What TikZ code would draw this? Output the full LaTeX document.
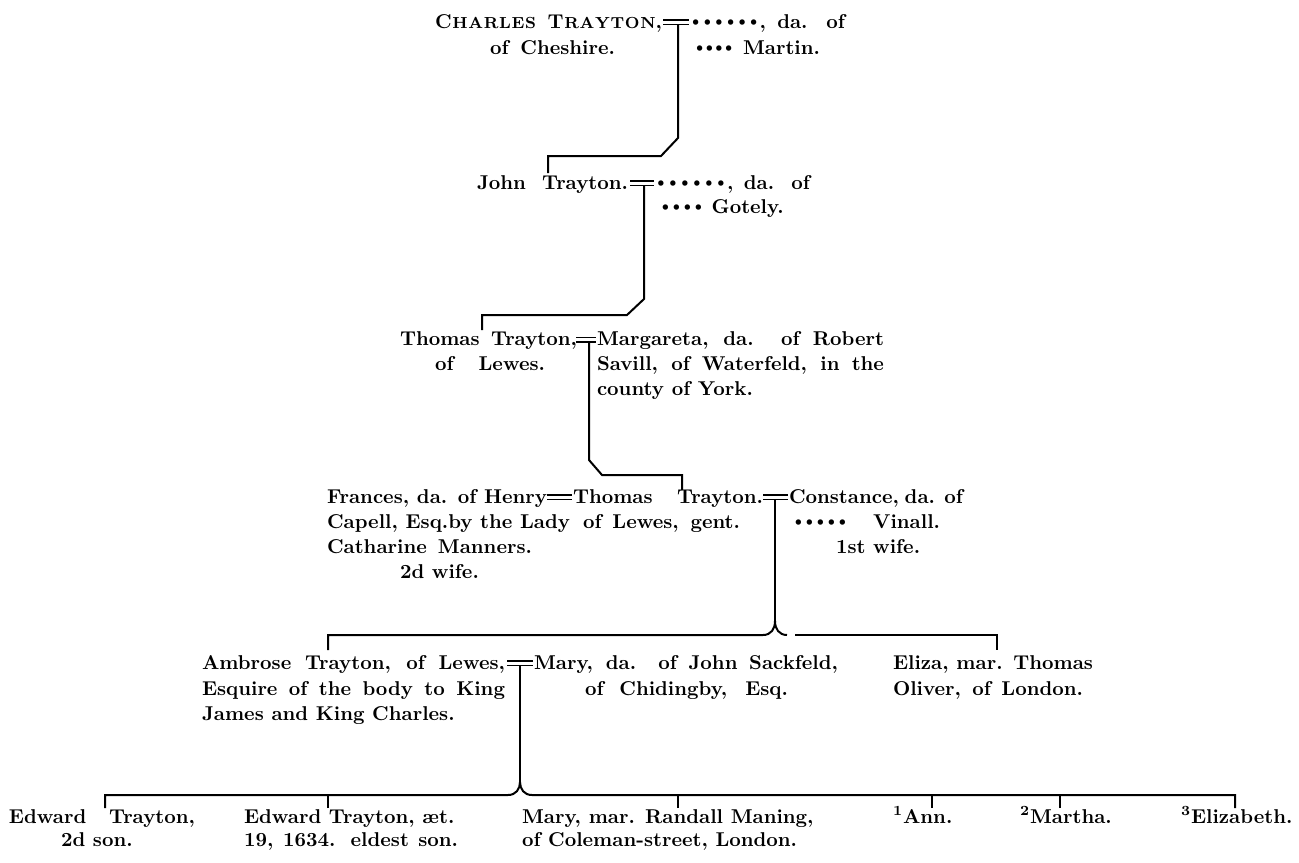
\documentclass[tikz,border=0pt]{standalone}
\usepackage{fontspec}
\newdimen\pxu \pxu=0.5pt
\newcommand\jb[2]{\makebox[#1\pxu][s]{#2}}
\newcommand\smc[1]{{\fontsize{8}{9}\selectfont #1}}
\newcommand\K{\kern0.35pt}
\newcommand\bu[1][5.5pt]{\makebox[#1]{\raisebox{0.9pt}{\fontsize{8.8}{9}\selectfont •}}}
\begin{document}
\begin{tikzpicture}[x=0.5pt,y=-0.5pt,
  lbl/.style={anchor=base west,inner sep=0pt,outer sep=0pt,font=\fontsize{10}{12}\selectfont\bfseries\addfontfeatures{FakeBold=0.5}},
  rule/.style={line width=1pt,line join=miter},
  eqs/.style={line width=0.75pt}]
\path[use as bounding box, fill=white] (0,0) rectangle (1299,862);

% ---------- generation 1
\node[lbl] (cha) at (435,28) {\jb{227}{C\K\smc{H\K A\K R\K L\K E\K S} T\K\smc{R\K A\K Y\K T\K O\K N},}};
\node[lbl] (chb) at (490,54) {\jb{125}{of Cheshire.}};
\node[lbl] (w1a) at (690,28) {\jb{155}{\bu[5.8pt]\bu[5.8pt]\bu[5.8pt]\bu[5.8pt]\bu[5.8pt]\bu[5.8pt], da. of}};
\node[lbl] (w1b) at (695,54) {\jb{125}{\bu[4.8pt]\bu[4.8pt]\bu[4.8pt]\bu[4.8pt] Martin.}};
% ---------- generation 2
\node[lbl] (joa) at (477,189) {\jb{151}{John Trayton.}};
\node[lbl] (w2a) at (655,189) {\jb{155}{\bu[6pt]\bu[6pt]\bu[6pt]\bu[6pt]\bu[6pt]\bu[6pt], da. of}};
\node[lbl] (w2b) at (660,213) {\bu\bu\bu\bu{} Gotely.};
% ---------- generation 3
\node[lbl] (tha) at (400,345) {\jb{177}{Thomas Trayton,}};
\node[lbl] (thb) at (435,370) {\jb{110}{of Lewes.}};
\node[lbl] (maa) at (597,345) {\jb{287}{Margareta, da. of Robert}};
\node[lbl] (mab) at (597,370) {\jb{287}{Savill, of Waterfeld, in the}};
\node[lbl] (mac) at (597,395) {county of York.};
% ---------- generation 4
\node[lbl] (fra) at (327,503) {\jb{220}{Frances, da. of Henry}};
\node[lbl] (frb) at (327,528) {Capell, Esq.by the Lady};
\node[lbl] (frc) at (327,553) {\jb{205}{Catharine Manners.}};
\node[lbl] (frd) at (400,578) {2d wife.};
\node[lbl] (t4a) at (573,503) {\jb{190}{Thomas Trayton.}};
\node[lbl] (t4b) at (583,528) {\jb{157}{of Lewes, gent.}};
\node[lbl] (coa) at (789,503) {\jb{174}{Constance, da. of}};
\node[lbl] (cob) at (793,528) {\jb{147}{\bu\bu\bu\bu\bu{} Vinall.}};
\node[lbl] (coc) at (836,553) {1st wife.};
% ---------- generation 5
\node[lbl] (ama) at (202,669) {\jb{303}{Ambrose Trayton, of Lewes,}};
\node[lbl] (amb) at (202,695) {\jb{303}{Esquire of the body to King}};
\node[lbl] (amc) at (202,720) {James and King Charles.};
\node[lbl] (mya) at (534,669) {\jb{304}{Mary, da. of John Sackfeld,}};
\node[lbl] (myb) at (585,695) {\jb{203}{of Chidingby, Esq.}};
\node[lbl] (ela) at (893,669) {\jb{200}{Eliza, mar. Thomas}};
\node[lbl] (elb) at (893,695) {\jb{190}{Oliver, of London.}};
% ---------- generation 6
\node[lbl] (eda) at (9,823) {\jb{186}{Edward Trayton,}};
\node[lbl] (edb) at (61,846) {2d son.};
\node[lbl] (eea) at (244,823) {Edward Trayton, æt.};
\node[lbl] (eeb) at (244,846) {\jb{214}{19, 1634. eldest son.}};
\node[lbl] (mra) at (522,823) {Mary, mar. Randall Maning,};
\node[lbl] (mrb) at (522,846) {of Coleman-street, London.};
\node[lbl] (ann) at (893,823) {\textsuperscript{1}Ann.};
\node[lbl] (mrt) at (1020,823) {\textsuperscript{2}Martha.};
\node[lbl] (eli) at (1181,823) {\textsuperscript{3}Elizabeth.};

% ---------- coordinates of marriage signs and descents
\coordinate (s1) at (678,24.5);   \coordinate (k2) at (548,173);
\coordinate (s2) at (644,185.5);  \coordinate (k3) at (482,330);
\coordinate (s3) at (589,342);    \coordinate (k4) at (682,490);
\coordinate (s4) at (775,499.5);  \coordinate (b4) at (775,621);
\coordinate (s5) at (520,665.5);  \coordinate (b5) at (520,782);
\coordinate (c51) at (328,650);   \coordinate (c52) at (997,650);
\coordinate (c61) at (105,808);   \coordinate (c62) at (328,808);
\coordinate (c63) at (678,808);   \coordinate (c64) at (932,808);
\coordinate (c65) at (1060,808);  \coordinate (c66) at (1235,808);

% marriage signs
\draw[eqs] (663,20)--(689,20) (663,24.5)--(689,24.5);
\draw[eqs] (630,181)--(654,181) (630,185.5)--(654,185.5);
\draw[eqs] (576,337.5)--(596,337.5) (576,342)--(596,342);
\draw[eqs] (547,495)--(572,495) (547,499.5)--(572,499.5);
\draw[eqs] (763,495)--(788,495) (763,499.5)--(788,499.5);
\draw[eqs] (507,661)--(533,661) (507,665.5)--(533,665.5);

% descents
\draw[rule] (s1) -- (678,138) -- (661,156) -| (k2);
\draw[rule] (s2) -- (644,299) -- (627,315) -| (k3);
\draw[rule] (s3) -- (589,460) -- (602,475) -| (k4);
\draw[rule] (s4) -- (b4);
\draw[rule] (c51) |- (763,635) .. controls (771,635) and (775,629) .. (b4);
\draw[rule] (b4) .. controls (775,629) and (779,635) .. (787,635);
\draw[rule] (795,635) -| (c52);
\draw[rule] (s5) -- (b5);
\draw[rule] (c61) |- (508,795) .. controls (516,795) and (520,789) .. (b5);
\draw[rule] (b5) .. controls (520,789) and (524,795) .. (532,795) -| (c66);
\foreach \c in {c62,c63,c64,c65} \draw[rule] (\c) -- (\c |- 0,795);
\end{tikzpicture}
\end{document}
